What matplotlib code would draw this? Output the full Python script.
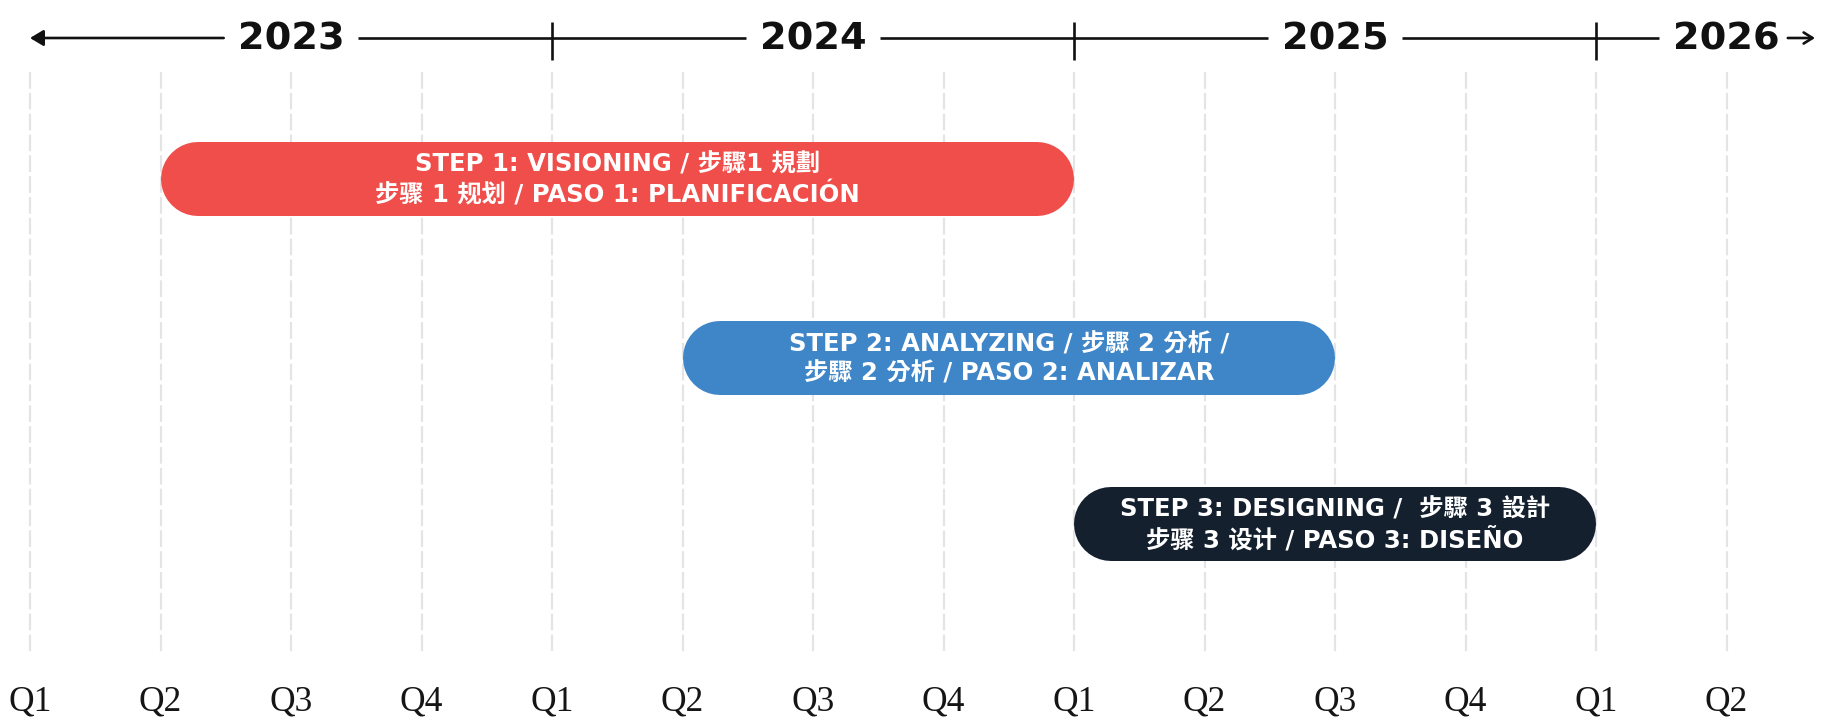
import matplotlib
matplotlib.use("Agg")
import matplotlib.pyplot as plt
from matplotlib.patches import FancyArrowPatch

plt.rcParams['lines.scale_dashes'] = False

# ---------------- data ----------------
quarter_labels = ["Q1", "Q2", "Q3", "Q4", "Q1", "Q2", "Q3", "Q4",
                  "Q1", "Q2", "Q3", "Q4", "Q1", "Q2"]
year_labels = ["2023", "2024", "2025", "2026"]
year_label_quarter = [2, 6, 10, 13]      # quarter index under which each year label is centred
year_boundaries = [4, 8, 12]             # quarter index where a new year starts

task_labels = [
    "STEP 1: VISIONING / 步驟1 規劃\n步骤 1 规划 / PASO 1: PLANIFICACIÓN",
    "STEP 2: ANALYZING / 步驟 2 分析 /\n步驟 2 分析 / PASO 2: ANALIZAR",
    "STEP 3: DESIGNING /  步驟 3 設計\n步骤 3 设计 / PASO 3: DISEÑO",
]
task_start = [1, 5, 8]     # quarter index
task_end = [8, 10, 12]     # quarter index
task_colors = ["#F04E4A", "#3F86C8", "#14202E"]

# ---------------- layout ----------------
W, H = 1829, 720
X0_PX, STEP_PX = 30, 130.5
lane_y = [179, 358, 524]
BAR_H = 74
AXIS_Y = 38

fig = plt.figure(figsize=(W / 100, H / 100), dpi=100)
ax = fig.add_axes([0, 0, 1, 1])
ax.set_xlim(-X0_PX / STEP_PX, (W - X0_PX) / STEP_PX)
ax.set_ylim(H, 0)
ax.axis("off")

px = 1.0 / STEP_PX  # one pixel in x data units

# grid lines
ax.vlines(range(len(quarter_labels)), 72, 655, colors="#e4e4e4",
          linestyles=[(0, (12, 3))], linewidth=1.6, zorder=0)

# quarter labels
for i, q in enumerate(quarter_labels):
    ax.text(i, 702, q, ha="center", va="center", fontsize=25.5,
            family="Liberation Serif", color="#151515")

# bars
r = BAR_H / 2 * px
for lab, s, e, c, y in zip(task_labels, task_start, task_end, task_colors, lane_y):
    ax.plot([s + r, e - r], [y, y], color=c, linewidth=BAR_H * 0.72,
            solid_capstyle="round", zorder=2)
    ax.text((s + e) / 2, y + 1, lab, ha="center", va="center", color="white",
            fontsize=17.5, fontweight="bold", linespacing=1.22,
            family=["DejaVu Sans", "Noto Sans CJK TC"], zorder=3)

# top year axis
ytexts = []
for lab, q in zip(year_labels, year_label_quarter):
    t = ax.text(q, AXIS_Y + 1, lab, ha="center", va="center", fontsize=27.5,
                fontweight="heavy", family=["DejaVu Sans"], color="#111111")
    ytexts.append(t)

fig.canvas.draw()
rend = fig.canvas.get_renderer()
inv = ax.transData.inverted()
bounds = []
for t in ytexts:
    bb = t.get_window_extent(rend)
    x_l = inv.transform((bb.x0, 0))[0]
    x_r = inv.transform((bb.x1, 0))[0]
    bounds.append((x_l, x_r))

GAP = 14 * px
lw_axis = 1.9
# left arrow segment
ax.add_patch(FancyArrowPatch((bounds[0][0] - GAP, AXIS_Y), (0, AXIS_Y),
                             arrowstyle="-|>,head_length=5,head_width=3",
                             mutation_scale=1.6, color="#111111", lw=lw_axis,
                             shrinkA=0, shrinkB=0))
for (a, b) in zip(bounds[:-1], bounds[1:]):
    ax.plot([a[1] + GAP, b[0] - GAP], [AXIS_Y, AXIS_Y], color="#111111",
            lw=lw_axis, solid_capstyle="butt")
# right short arrow
end_x = (W - 14 - X0_PX) / STEP_PX
ax.add_patch(FancyArrowPatch((bounds[-1][1] + 8 * px, AXIS_Y), (end_x, AXIS_Y),
                             arrowstyle="->,head_length=4,head_width=2.5",
                             mutation_scale=1.6, color="#111111", lw=lw_axis,
                             shrinkA=0, shrinkB=0))
# year boundary ticks
ax.vlines(year_boundaries, 22, 60, colors="#111111", linewidth=lw_axis)

fig.savefig("out.png", dpi=100)
